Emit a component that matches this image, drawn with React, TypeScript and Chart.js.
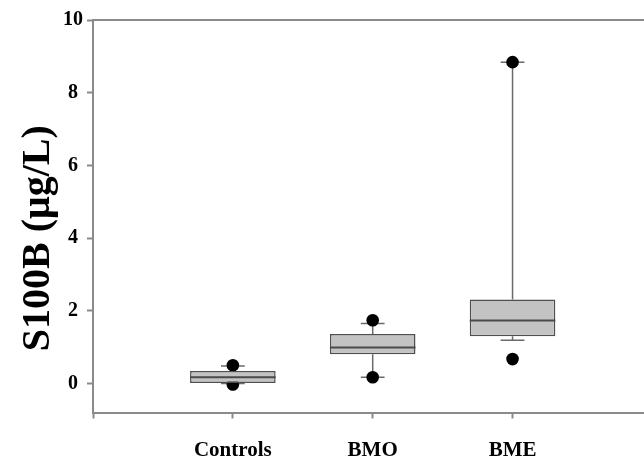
import React, { useEffect, useRef } from 'react';
import { Chart, registerables } from 'chart.js';

Chart.register(...registerables);

// ---- data ----
const groups = ['Controls', 'BMO', 'BME'];
const groupPos = [1, 2, 3];
const whiskerLow = [0.0, 0.17, 1.19];
const q1 = [0.0, 0.8, 1.3];
const median = [0.17, 0.99, 1.73];
const q3 = [0.34, 1.36, 2.31];
const whiskerHigh = [0.48, 1.65, 8.84];
const outlierLow = [-0.03, 0.17, 0.67];
const outlierHigh = [0.5, 1.74, 8.84];
const yTickValues = [0, 2, 4, 6, 8, 10];
const xTickValues = [0, 1, 2, 3];
const yTitle = 'S100B (\u03BCg/L)';

const FONT = "'Liberation Serif', 'Times New Roman', serif";
const AXIS_COLOR = '#8a8a8a';
const BOX_HALF = 0.306;
const CAP_HALF = 0.085;

const yTitlePlugin = {
  id: 'yTitle',
  afterDraw(chart: any) {
    const { ctx, chartArea } = chart;
    ctx.save();
    ctx.font = `bold 40px ${FONT}`;
    ctx.fillStyle = '#000';
    ctx.textAlign = 'center';
    ctx.textBaseline = 'middle';
    ctx.translate(chartArea.left - 54, (chartArea.top + chartArea.bottom) / 2 + 22);
    ctx.rotate(-Math.PI / 2);
    ctx.fillText(yTitle, 0, 0);
    ctx.restore();
  },
};

export default function App() {
  const ref = useRef<HTMLCanvasElement | null>(null);

  useEffect(() => {
    if (!ref.current) return;

    const boxes = groupPos.map((x, i) => ({ x, y: [q1[i], q3[i]] }));
    const medians: any[] = [];
    const whiskers: any[] = [];
    groupPos.forEach((x, i) => {
      medians.push({ x: x - BOX_HALF, y: median[i] }, { x: x + BOX_HALF, y: median[i] }, { x, y: null });
      whiskers.push(
        { x, y: q3[i] }, { x, y: whiskerHigh[i] }, { x, y: null },
        { x: x - CAP_HALF, y: whiskerHigh[i] }, { x: x + CAP_HALF, y: whiskerHigh[i] }, { x, y: null },
        { x, y: q1[i] }, { x, y: whiskerLow[i] }, { x, y: null },
        { x: x - CAP_HALF, y: whiskerLow[i] }, { x: x + CAP_HALF, y: whiskerLow[i] }, { x, y: null }
      );
    });
    const dots = groupPos.flatMap((x, i) => [
      { x, y: outlierLow[i] },
      { x, y: outlierHigh[i] },
    ]);

    const chart = new Chart(ref.current, {
      type: 'bar',
      plugins: [yTitlePlugin],
      data: {
        datasets: [
          {
            type: 'line',
            label: 'median',
            data: medians,
            borderColor: '#4a4a4a',
            borderWidth: 2,
            pointRadius: 0,
            spanGaps: false,
            order: 0,
          } as any,
          {
            type: 'bar',
            label: 'box',
            data: boxes,
            backgroundColor: '#c3c3c3',
            borderColor: '#4f4f4f',
            borderWidth: 1.5,
            borderSkipped: false,
            barPercentage: 0.612,
            categoryPercentage: 1,
            order: 1,
          } as any,
          {
            type: 'line',
            label: 'outliers',
            data: dots,
            showLine: false,
            pointRadius: 6.3,
            pointBackgroundColor: '#000',
            pointBorderColor: '#000',
            pointBorderWidth: 0,
            order: 2,
          } as any,
          {
            type: 'line',
            label: 'whiskers',
            data: whiskers,
            borderColor: '#6a6a6a',
            borderWidth: 1.5,
            pointRadius: 0,
            spanGaps: false,
            order: 3,
          } as any,
        ],
      },
      options: {
        animation: false,
        responsive: true,
        maintainAspectRatio: false,
        layout: { autoPadding: false, padding: { top: 20, right: 0, left: 0, bottom: 0 } },
        plugins: {
          legend: { display: false },
          tooltip: { enabled: false },
        },
        events: [],
        scales: {
          x: {
            type: 'linear',
            position: 'bottom',
            min: 0,
            max: 3.94,
            offset: false,
            afterBuildTicks: (s: any) => {
              s.ticks = xTickValues.map((v) => ({ value: v }));
            },
            afterFit: (s: any) => {
              s.height = 50.5;
            },
            ticks: {
              autoSkip: false,
              maxRotation: 0,
              padding: 19,
              color: '#000',
              font: { family: FONT, size: 21, weight: 'bold' },
              callback: (v: any) => {
                const idx = groupPos.indexOf(Number(v));
                return idx >= 0 ? groups[idx] : '';
              },
            },
            grid: {
              display: true,
              offset: false,
              drawOnChartArea: false,
              drawTicks: true,
              tickLength: 6,
              tickColor: AXIS_COLOR,
              tickWidth: 2,
            },
            border: { display: true, color: AXIS_COLOR, width: 2 },
          },
          xTop: {
            type: 'linear',
            position: 'top',
            min: 0,
            max: 3.94,
            ticks: { display: false },
            grid: { display: false, drawTicks: false },
            border: { display: true, color: AXIS_COLOR, width: 2 },
            afterFit: (s: any) => {
              s.height = 0;
            },
          },
          y: {
            type: 'linear',
            min: -0.8,
            max: 10,
            afterBuildTicks: (s: any) => {
              s.ticks = yTickValues.map((v) => ({ value: v }));
            },
            afterFit: (s: any) => {
              s.width = 93;
            },
            ticks: {
              padding: 4,
              crossAlign: 'center',
              color: '#000',
              font: { family: FONT, size: 20, weight: 'bold' },
            },
            grid: {
              display: true,
              drawOnChartArea: false,
              drawTicks: true,
              tickLength: 6,
              tickColor: AXIS_COLOR,
              tickWidth: 2,
            },
            border: { display: true, color: AXIS_COLOR, width: 2 },
            title: { display: false },
          },
        },
      } as any,
    });

    return () => chart.destroy();
  }, []);

  return (
    <div style={{ position: 'fixed', left: 0, top: 0, width: 644, height: 463, background: '#fff' }}>
      <canvas ref={ref} />
    </div>
  );
}
